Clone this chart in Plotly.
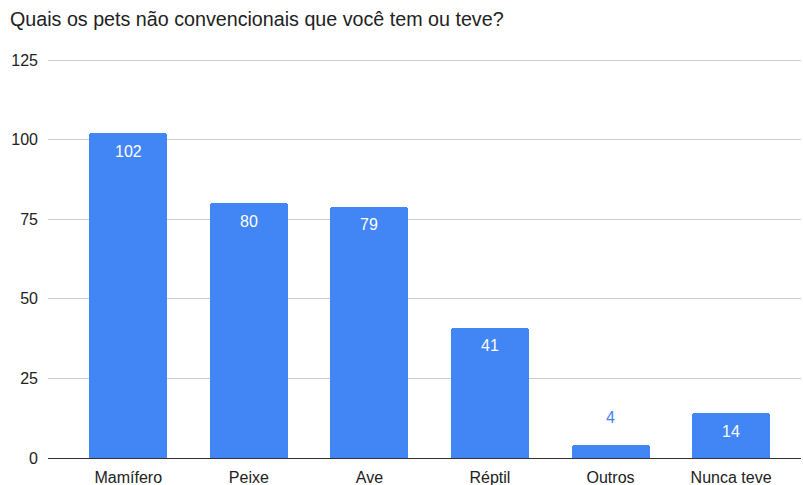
import plotly.graph_objects as go

categories = ["Mamífero", "Peixe", "Ave", "Réptil", "Outros", "Nunca teve"]
values = [102, 80, 79, 41, 4, 14]
y_ticks = [0, 25, 50, 75, 100, 125]
title_text = "Quais os pets não convencionais que você tem ou teve?"

BLUE = "#4285F4"
FONT = "Liberation Sans, Arial, sans-serif"

fig = go.Figure()
fig.add_trace(go.Bar(
    x=list(range(len(categories))),
    y=values,
    marker=dict(color=BLUE, cornerradius=3, line=dict(width=0)),
    width=0.647,
    hoverinfo="skip",
))

annotations = []
for i, v in enumerate(values):
    inside = v >= 10
    annotations.append(dict(
        x=i, y=v, xref="x", yref="y",
        text=str(v), showarrow=False,
        yanchor="middle", xanchor="center",
        yshift=-18 if inside else 28,
        font=dict(family=FONT, size=16, color="#ffffff" if inside else BLUE),
    ))

fig.update_layout(
    width=803, height=485,
    margin=dict(l=48, r=2, t=56.6, b=26.5),
    paper_bgcolor="white", plot_bgcolor="white",
    showlegend=False,
    font=dict(family=FONT, size=16, color="#222222"),
    title=dict(text=title_text, x=10/803, xref="container", xanchor="left",
               y=1 - 19/485, yref="container", yanchor="middle",
               font=dict(family=FONT, size=19.7, color="#222222")),
    annotations=annotations,
    bargap=0,
)
fig.update_xaxes(
    range=[-0.666, 5.58],
    tickvals=list(range(len(categories))), ticktext=categories,
    showgrid=False, zeroline=False,
    showline=True, linecolor="#333333", linewidth=1.3,
    ticks="", ticklabelstandoff=5, automargin=False,
    tickfont=dict(family=FONT, size=16, color="#222222"),
    fixedrange=True,
)
fig.update_yaxes(
    range=[0, 126], tickvals=y_ticks,
    showgrid=True, gridcolor="#cccccc", gridwidth=1,
    zeroline=False, showline=False, ticks="",
    ticklabelstandoff=9, automargin=False,
    tickfont=dict(family=FONT, size=16, color="#222222"),
    fixedrange=True,
)

fig.write_html("out.html", config={"displayModeBar": False})
